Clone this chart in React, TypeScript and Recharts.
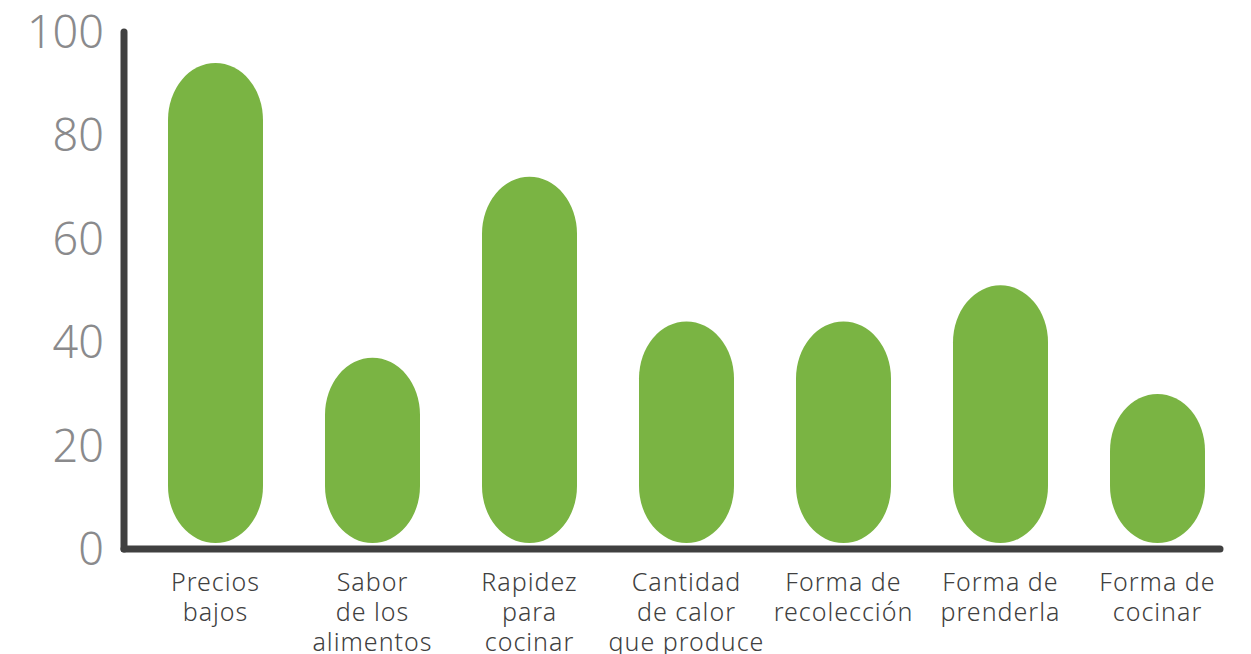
import { Bar, BarChart, XAxis, YAxis } from "recharts";

const categories = [
    "Precios\nbajos",
    "Sabor\nde los\nalimentos",
    "Rapidez\npara\ncocinar",
    "Cantidad\nde calor\nque produce",
    "Forma de\nrecolección",
    "Forma de\nprenderla",
    "Forma de\ncocinar",
];
const values = [94, 37, 72, 44, 44, 51, 30];
const yTicks = [0, 20, 40, 60, 80, 100];

const data = categories.map((name, i) => ({ name, value: values[i] }));

const GREEN = "#7ab443";
const AXIS = "#404040";

// pill shaped bar: elliptical caps top and bottom, sitting just above the axis
function PillBar(props: any) {
    const { x, y, width, height } = props;
    if (!height || height <= 0) return null;
    const rx = width / 2;
    const ry = 57;
    const bottom = y + height - 6;
    const d = `M ${x} ${y + ry} A ${rx} ${ry} 0 0 1 ${x + width} ${y + ry} L ${x + width} ${bottom - ry} A ${rx} ${ry} 0 0 1 ${x} ${bottom - ry} Z`;
    return <path d={d} fill={GREEN} />;
}

function CategoryTick(props: any) {
    const { x, y, payload } = props;
    const lines = String(payload.value).split("\n");
    return (
        <text
            x={x}
            y={y}
            textAnchor="middle"
            fill={AXIS}
            fontSize={25}
            letterSpacing={1}
            fontFamily="'Noto Sans', 'Open Sans', sans-serif"
            fontWeight={300}
        >
            {lines.map((line, i) => (
                <tspan key={i} x={x} dy={i === 0 ? 22 : 30}>
                    {line}
                </tspan>
            ))}
        </text>
    );
}

export default function App() {
    return (
        <div style={{ position: "absolute", left: 0, top: 0, background: "#fff" }}>
            <BarChart
                width={1251}
                height={654}
                data={data}
                margin={{ top: 32, right: 31, bottom: 0, left: 0 }}
            >
                <XAxis
                    dataKey="name"
                    height={105}
                    interval={0}
                    padding={{ left: 13, right: -16 }}
                    tickLine={false}
                    tickSize={0}
                    tickMargin={20}
                    axisLine={{ stroke: AXIS, strokeWidth: 7, strokeLinecap: "round" }}
                    tick={<CategoryTick />}
                />
                <YAxis
                    width={124}
                    domain={[0, 100]}
                    ticks={yTicks}
                    interval={0}
                    tickLine={false}
                    tickSize={0}
                    tickMargin={20}
                    axisLine={{ stroke: AXIS, strokeWidth: 7, strokeLinecap: "round" }}
                    tick={{
                        fill: "#8a8a8c",
                        fontSize: 45,
                        fontFamily: "'Noto Sans', 'Open Sans', sans-serif",
                        fontWeight: 300,
                    }}
                />
                <Bar
                    dataKey="value"
                    barSize={95}
                    shape={<PillBar />}
                    isAnimationActive={false}
                />
            </BarChart>
        </div>
    );
}
